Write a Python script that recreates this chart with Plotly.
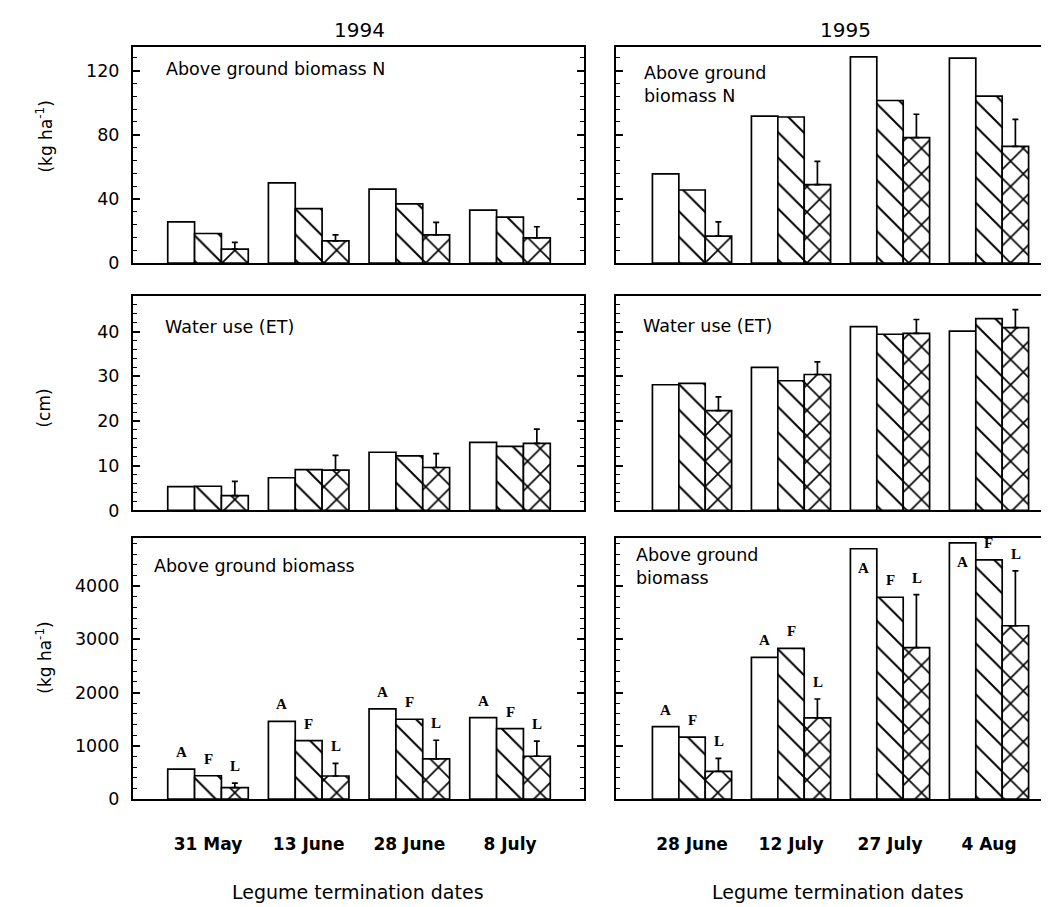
import plotly.graph_objects as go

# ---------------- data ----------------
dates_1994 = ["31 May", "13 June", "28 June", "8 July"]
dates_1995 = ["28 June", "12 July", "27 July", "4 Aug"]
treatments = ["A", "F", "L"]

# Above ground biomass N (kg ha-1)
n94_A = [25.7, 50.1, 46.1, 33.0]
n94_F = [18.5, 34.0, 37.0, 28.7]
n94_L = [8.8, 13.9, 17.6, 15.8]
n94_L_err = [4.2, 3.7, 7.8, 6.9]

n95_A = [55.6, 91.6, 128.6, 127.8]
n95_F = [45.6, 91.1, 101.4, 104.1]
n95_L = [16.9, 49.0, 78.3, 72.8]
n95_L_err = [8.8, 14.5, 14.5, 16.8]

# Water use (ET), cm
et94_A = [5.3, 7.3, 13.0, 15.2]
et94_F = [5.4, 9.1, 12.2, 14.3]
et94_L = [3.3, 9.0, 9.6, 15.0]
et94_L_err = [3.2, 3.3, 3.1, 3.2]

et95_A = [28.1, 32.0, 41.1, 40.1]
et95_F = [28.4, 29.0, 39.4, 42.9]
et95_L = [22.3, 30.4, 39.6, 40.9]
et95_L_err = [3.1, 2.8, 3.1, 4.0]

# Above ground biomass (kg ha-1)
bm94_A = [565, 1460, 1694, 1531]
bm94_F = [440, 1099, 1500, 1325]
bm94_L = [218, 435, 756, 806]
bm94_L_err = [84, 236, 350, 282]

bm95_A = [1360, 2660, 4700, 4810]
bm95_F = [1165, 2830, 3790, 4490]
bm95_L = [520, 1525, 2845, 3255]
bm95_L_err = [245, 355, 995, 1030]

year_titles = ["1994", "1995"]
panel_labels = [["Above ground biomass N", "Above ground<br>biomass N"],
                ["Water use (ET)", "Water use (ET)"],
                ["Above ground biomass", "Above ground<br>biomass"]]
y_titles = ["(kg ha<sup>-1</sup>)", "(cm)", "(kg ha<sup>-1</sup>)"]
x_title = "Legume termination dates"

# ---------------- layout geometry ----------------
W, H = 1049, 907
def px(x):
    return x / W
def py(y):
    return 1 - y / H

FONT = "DejaVu Sans"
col_dom = [[px(125), px(576)], [px(608), 1.0]]
row_dom = [[py(258), py(39)], [py(508), py(291)], [py(800), py(536)]]
x_ranges = [[0.255, 4.735], [0.232, 4.687]]
y_ranges = [[0, 135], [0, 48], [0, 4900]]
y_dtick = [40, 10, 1000]
y_minor = [8, 2, 200]

rows = [
    [(n94_A, n94_F, n94_L, n94_L_err), (n95_A, n95_F, n95_L, n95_L_err)],
    [(et94_A, et94_F, et94_L, et94_L_err), (et95_A, et95_F, et95_L, et95_L_err)],
    [(bm94_A, bm94_F, bm94_L, bm94_L_err), (bm95_A, bm95_F, bm95_L, bm95_L_err)],
]
dates = [dates_1994, dates_1995]
xpos = [1, 2, 3, 4]

fig = go.Figure()
layout = dict(width=W, height=H, autosize=False,
              margin=dict(l=0, r=0, t=0, b=0),
              paper_bgcolor="white", plot_bgcolor="white",
              barmode="group", bargap=0.2, bargroupgap=0.0,
              showlegend=False,
              font=dict(family=FONT, size=17, color="black"))
annotations = []

patterns = [None,
            dict(shape="\\", size=18, solidity=0.11, fgcolor="black", bgcolor="white",
                 fgopacity=1, fillmode="replace"),
            dict(shape="x", size=18, solidity=0.17, fgcolor="black", bgcolor="white",
                 fgopacity=1, fillmode="replace")]

k = 0
for r in range(3):
    for c in range(2):
        k += 1
        xa = "x" if k == 1 else f"x{k}"
        ya = "y" if k == 1 else f"y{k}"
        A, F, L, Lerr = rows[r][c]
        series = [A, F, L]
        for i, vals in enumerate(series):
            marker = dict(color="white", line=dict(color="black", width=1.7))
            if patterns[i] is not None:
                marker["pattern"] = patterns[i]
            tr = dict(x=xpos, y=vals, xaxis=xa, yaxis=ya, name=treatments[i],
                      marker=marker)
            if i == 2:
                tr["error_y"] = dict(type="data", array=Lerr, arrayminus=[0] * 4,
                                     symmetric=False, color="black",
                                     thickness=1.7, width=3)
            fig.add_trace(go.Bar(**tr))

        xkey = "xaxis" if k == 1 else f"xaxis{k}"
        ykey = "yaxis" if k == 1 else f"yaxis{k}"
        xa_cfg = dict(domain=col_dom[c], anchor=ya, range=x_ranges[c],
                      showline=True, linewidth=2, linecolor="black",
                      mirror=True, ticks="", showgrid=False, zeroline=False,
                      showticklabels=(r == 2), fixedrange=True)
        if r == 2:
            xa_cfg.update(tickmode="array", tickvals=xpos, ticktext=dates[c],
                          ticklabelstandoff=28,
                          tickfont=dict(family=FONT, size=17, weight="bold"))
        layout[xkey] = xa_cfg
        ya_cfg = dict(domain=row_dom[r], anchor=xa, range=y_ranges[r],
                      showline=True, linewidth=2, linecolor="black",
                      mirror=("allticks" if c == 0 else False),
                      ticks="inside", ticklen=7, tickwidth=1.5, tickcolor="black",
                      tick0=0, dtick=y_dtick[r],
                      minor=dict(dtick=y_minor[r], ticks="inside", ticklen=4,
                                 tickwidth=1.2, tickcolor="black", showgrid=False),
                      showgrid=False, zeroline=False,
                      showticklabels=(c == 0), fixedrange=True)
        if c == 0:
            ya_cfg.update(ticklabelstandoff=8, tickfont=dict(family=FONT, size=17.5))
        layout[ykey] = ya_cfg

        # A / F / L letters on the biomass panels
        if r == 2:
            ymax = y_ranges[r][1]
            offs = [-0.268, 0.0, 0.268]
            for g in range(4):
                for i, vals in enumerate(series):
                    top = vals[g] + (Lerr[g] if i == 2 else 0)
                    inside = (i == 0 and top > 0.94 * ymax)
                    annotations.append(dict(
                        x=xpos[g] + offs[i], y=top, xref=xa, yref=ya,
                        text=treatments[i], showarrow=False,
                        yanchor="middle", yshift=(-19 if inside else 17),
                        font=dict(family="Liberation Serif", size=15, weight="bold")))

# year titles
for c, t in enumerate(year_titles):
    annotations.append(dict(x=px([351, 837][c]), y=py(22), xref="paper", yref="paper",
                            text=t, showarrow=False, xanchor="center", yanchor="middle",
                            font=dict(family=FONT, size=20)))

# panel labels
label_pos = [[(156, 62), (634, 77)], [(155, 323), (633, 322)], [(144, 564), (626, 565)]]
for r in range(3):
    for c in range(2):
        x0, y0 = label_pos[r][c]
        annotations.append(dict(x=px(x0), y=py(y0), xref="paper", yref="paper",
                                text=panel_labels[r][c], showarrow=False,
                                xanchor="left", yanchor="middle", align="left",
                                font=dict(family=FONT, size=17.5)))

# y titles
for r, (t, yc) in enumerate(zip(y_titles, [130, 405, 657])):
    annotations.append(dict(x=px(36), y=py(yc), xref="paper", yref="paper",
                            text=t, showarrow=False, textangle=-90,
                            xanchor="center", yanchor="middle",
                            font=dict(family=FONT, size=17)))

# x titles
for c, xc in enumerate([350, 830]):
    annotations.append(dict(x=px(xc), y=py(894), xref="paper", yref="paper",
                            text=x_title, showarrow=False,
                            xanchor="center", yanchor="middle",
                            font=dict(family=FONT, size=19)))

layout["annotations"] = annotations
fig.update_layout(**layout)
fig.write_html("out.html")
